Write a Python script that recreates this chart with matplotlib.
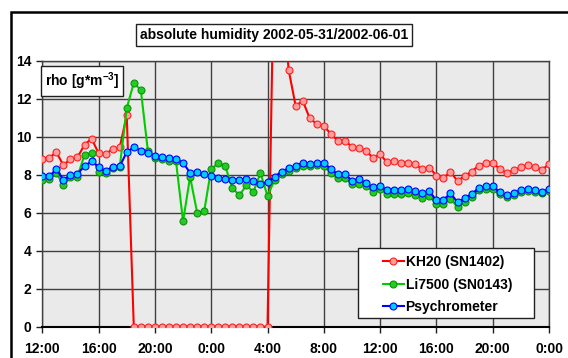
import numpy as np
import matplotlib
matplotlib.use("Agg")
from matplotlib import pyplot as plt
from matplotlib.patches import Rectangle

plt.rcParams['font.family'] = ['Liberation Sans', 'DejaVu Sans']
plt.rcParams['font.weight'] = 'bold'
plt.rcParams['mathtext.fontset'] = 'custom'
plt.rcParams['mathtext.bf'] = 'Liberation Sans:bold'
plt.rcParams['mathtext.rm'] = 'Liberation Sans:bold'
plt.rcParams['mathtext.default'] = 'bf'

# half-hour values from 2002-05-31 12:00 to 2002-06-02 0:00
kh20 = [8.84, 8.90, 9.20, 8.50, 8.85, 8.92, 9.59, 9.91, 9.14, 9.08, 9.38, 9.45, 11.14,
        0, 0, 0, 0, 0, 0, 0, 0, 0, 0, 0, 0, 0, 0, 0, 0, 0, 0, 0, 0,
        21.0, 18.0,
        13.54, 11.63, 11.91, 10.98, 10.68, 10.59, 10.15, 9.80, 9.80,
        9.48, 9.40, 9.27, 8.89, 9.08, 8.66, 8.73, 8.64, 8.64, 8.56, 8.29, 8.38, 7.96, 7.85, 8.15,
        7.68, 7.94, 8.17, 8.48, 8.61, 8.64, 8.31, 8.10, 8.24, 8.40, 8.54, 8.43, 8.27, 8.56]
li7500 = [7.73, 7.78, 8.11, 7.45, 7.87, 7.90, 9.06, 9.15, 8.13, 8.08, 8.36, 8.40, 11.52, 12.84, 12.47,
          9.27, 8.90, 8.82, 8.71, 8.71, 5.55, 7.90, 6.01, 6.08, 8.31, 8.61, 8.45, 7.32, 6.92, 7.45,
          7.10, 8.11, 6.88, 7.73, 8.05, 8.22, 8.35, 8.48, 8.45, 8.50, 8.47, 8.08, 7.82, 7.82, 7.53,
          7.50, 7.41, 7.10, 7.24, 6.98, 6.99, 6.99, 7.04, 6.92, 6.80, 6.87, 6.48, 6.45, 6.74, 6.30,
          6.55, 6.82, 7.19, 7.26, 7.24, 6.99, 6.83, 6.95, 7.10, 7.17, 7.11, 7.03, 7.15]
psychro = [7.92, 7.92, 8.31, 7.73, 7.98, 8.05, 8.47, 8.71, 8.43, 8.19, 8.43, 8.45, 9.20, 9.45, 9.27,
           9.15, 9.01, 8.94, 8.87, 8.82, 8.64, 8.11, 8.13, 8.03, 7.96, 7.82, 7.78, 7.73, 7.71, 7.78,
           7.69, 7.50, 7.64, 7.90, 8.17, 8.35, 8.47, 8.64, 8.57, 8.64, 8.62, 8.31, 8.03, 8.03, 7.70,
           7.78, 7.57, 7.34, 7.41, 7.19, 7.19, 7.19, 7.26, 7.13, 7.03, 7.13, 6.66, 6.68, 7.03, 6.56,
           6.76, 6.99, 7.29, 7.40, 7.40, 7.08, 6.92, 7.03, 7.20, 7.27, 7.19, 7.11, 7.24]
tick_labels = ['12:00', '16:00', '20:00', '0:00', '4:00', '8:00', '12:00', '16:00', '20:00', '0:00']
hours = np.arange(len(psychro)) * 0.5

fig = plt.figure(figsize=(5.68, 3.58), dpi=100)
ax = fig.add_axes([42.3/568, 1-326.7/358, (549-42.3)/568, (326.7-61)/358])
ax.set_facecolor('#eaeaea')

ms = 5
l1, = ax.plot(hours, kh20, '-o', color='#ff0000', lw=1.5, ms=ms, mfc='#ff9c9c', mec='#ff2020', mew=0.8,
              label='KH20 (SN1402)', zorder=3)
l2, = ax.plot(hours, li7500, '-o', color='#00cc00', lw=1.5, ms=ms, mfc='#22cc22', mec='#109010', mew=0.8,
              label='Li7500 (SN0143)', zorder=4)
l3, = ax.plot(hours, psychro, '-o', color='#0000ff', lw=1.5, ms=ms, mfc='#00ccff', mec='#0000ff', mew=0.8,
              label='Psychrometer', zorder=5)

ax.set_xlim(0, 36)
ax.set_ylim(0, 14)
ax.set_xticks(np.arange(0, 37, 4))
ax.set_xticklabels(tick_labels)
ax.set_yticks(np.arange(0, 15, 2))
ax.grid(True, color='#404040', lw=1.0)
ax.set_axisbelow(True)
for s in ['top', 'left', 'right']:
    ax.spines[s].set_color('#404040')
    ax.spines[s].set_linewidth(1.0)
ax.spines['bottom'].set_color('black')
ax.spines['bottom'].set_linewidth(1.5)
ax.tick_params(axis='both', labelsize=10, length=4, width=1, color='#202020')
ax.tick_params(axis='x', pad=7)
ax.tick_params(axis='y', pad=4)

# legend with its own frame
ax.add_patch(Rectangle(((358-42.3)/506.7, (326.7-318)/265.7), (534-358)/506.7, (318-248)/265.7,
                       transform=ax.transAxes, facecolor='white', edgecolor='#202020', lw=1.0, zorder=6))
leg = ax.legend(handles=[l1, l2, l3], loc='center left', bbox_to_anchor=((383-42.3)/506.7, (326.7-284.5)/265.7),
                frameon=False, borderpad=0, borderaxespad=0, handlelength=1.5, handletextpad=0.12,
                labelspacing=0.62, prop={'size': 10, 'weight': 'bold'})
leg.set_zorder(7)

fig.text(274/568, 1-35/358, 'absolute humidity 2002-05-31/2002-06-01', ha='center', va='center', fontsize=10,
         fontweight='bold', bbox=dict(boxstyle='square,pad=0.3', facecolor='white', edgecolor='#202020', lw=1.0))
fig.text(82/568, 1-81/358, r'rho [g*m$^{-3}$]', ha='center', va='center', fontsize=10, fontweight='bold',
         bbox=dict(boxstyle='square,pad=0.3', facecolor='white', edgecolor='#202020', lw=1.0), zorder=8)

# outer frame of the chart area
fig.add_artist(Rectangle((11/568, -0.5), 2.0, 1.5 - 12/358, transform=fig.transFigure,
                         fill=False, edgecolor='black', lw=1.8))

fig.savefig('out.png', dpi=100)
